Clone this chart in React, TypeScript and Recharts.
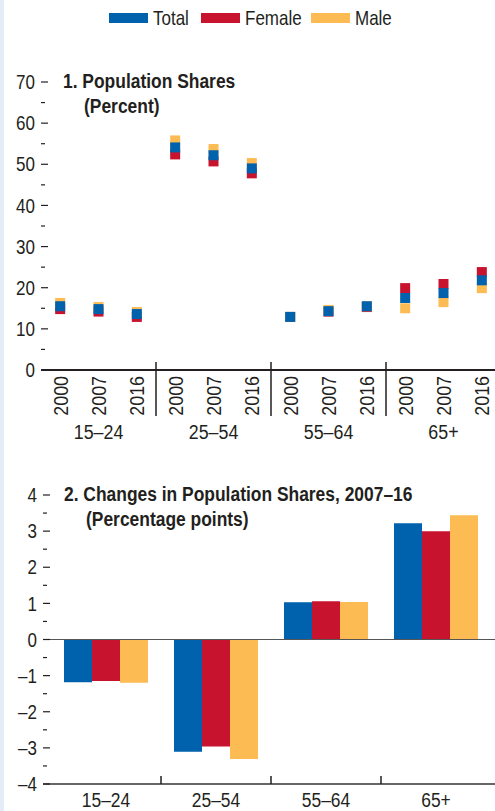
import React from 'react'
import {
  ScatterChart,
  Scatter,
  BarChart,
  Bar,
  XAxis,
  YAxis,
  ReferenceLine,
} from 'recharts'

const groups = ['15–24', '25–54', '55–64', '65+']
const years = ['2000', '2007', '2016']

// population shares, percent (2000, 2007, 2016 per age group)
const shareTotal = [15.5, 14.8, 13.6, 54.1, 52.2, 49.0, 12.9, 14.3, 15.5, 17.5, 18.7, 21.8]
const shareFemale = [14.8, 14.2, 12.9, 52.4, 50.7, 47.8, 12.9, 14.2, 15.3, 19.9, 20.9, 23.8]
const shareMale = [16.3, 15.3, 14.1, 55.8, 53.7, 50.3, 12.9, 14.6, 15.5, 15.0, 16.5, 19.9]

// changes 2007-16, percentage points
const changeTotal = [-1.18, -3.11, 1.03, 3.22]
const changeFemale = [-1.15, -2.96, 1.06, 3.0]
const changeMale = [-1.2, -3.31, 1.04, 3.44]

const shareTicks = [0, 5, 10, 15, 20, 25, 30, 35, 40, 45, 50, 55, 60, 65, 70]
const shareRightTicks = [10, 20, 30, 40, 50, 60, 70]
const changeTicks = [-4, -3.5, -3, -2.5, -2, -1.5, -1, -0.5, 0, 0.5, 1, 1.5, 2, 2.5, 3, 3.5, 4]
const changeRightTicks = [-3, -2, -1, 1, 2, 3, 4]

const BLUE = '#0061ac'
const RED = '#c8132f'
const YELLOW = '#fdbb54'
const INK = '#231f20'
const FONT = "'Liberation Sans', Arial, sans-serif"
const SQUEEZE = 0.85

const series = [
  { name: 'Total', color: BLUE },
  { name: 'Female', color: RED },
  { name: 'Male', color: YELLOW },
]

const toPoints = (vals: number[]) => vals.map((y, x) => ({ x, y }))
const xPositions = years.concat(years, years, years).map((_, i) => i)
const separators = [2.5, 5.5, 8.5]

const changeData = groups.map((g, i) => ({
  group: g,
  total: changeTotal[i],
  female: changeFemale[i],
  male: changeMale[i],
}))

const fmt = (v: number) => (v < 0 ? `–${-v}` : `${v}`)

// condensed-looking text: Liberation Sans squeezed horizontally
const Narrow = ({ x, y, rotate = 0, anchor = 'start', size = 20, bold = false, dy, children }: any) => (
  <text
    transform={`translate(${x}, ${y}) rotate(${rotate}) scale(${SQUEEZE}, 1)`}
    dy={dy}
    textAnchor={anchor}
    fontSize={size}
    fontWeight={bold ? 700 : 400}
    fill={INK}
    fontFamily={FONT}
  >
    {children}
  </text>
)

const square = (color: string) => (props: any) => (
  <rect x={props.cx - 5} y={props.cy - 5} width={10} height={10} fill={color} />
)

const LeftTick = ({ x, y, payload, major }: any) => {
  const isMajor = payload.value % major === 0
  return (
    <g>
      <line x1={x} x2={x + (isMajor ? 7 : 4)} y1={y} y2={y} stroke={INK} strokeWidth={1.2} />
      {isMajor && (
        <Narrow x={x - 6} y={y} dy="0.36em" anchor="end">
          {fmt(payload.value)}
        </Narrow>
      )}
    </g>
  )
}

const RightTick = ({ x, y }: any) => (
  <line x1={x - 8} x2={x} y1={y} y2={y} stroke={INK} strokeWidth={1.2} />
)

const YearTick = ({ x, y, payload }: any) => {
  const v = payload.value
  if (!Number.isInteger(v)) {
    return <line x1={x} x2={x} y1={y - 8} y2={y + 46} stroke={INK} strokeWidth={1.5} />
  }
  return (
    <g>
      <Narrow x={x} y={y + 6} rotate={-90} dy="0.36em" anchor="end" size={21}>
        {years[v % 3]}
      </Narrow>
      {v % 3 === 1 && (
        <Narrow x={x} y={y + 69} anchor="middle" size={21}>
          {groups[Math.floor(v / 3)]}
        </Narrow>
      )}
    </g>
  )
}

const GroupTick = ({ x, y, payload, index }: any) => {
  const half = payload.offset ?? 55
  return (
    <g>
      {index > 0 && (
        <line x1={x - half} x2={x - half} y1={y - 8} y2={y} stroke={INK} strokeWidth={1.5} />
      )}
      <Narrow x={x} y={y + 23} anchor="middle" size={20.5}>
        {payload.value}
      </Narrow>
    </g>
  )
}

const legendX = [109, 201, 311]

export default function App() {
  return (
    <div
      style={{
        position: 'absolute',
        left: 0,
        top: 0,
        width: 495,
        height: 811,
        overflow: 'hidden',
        background: '#fff',
      }}
    >
      <div style={{ position: 'absolute', left: 0, top: 0, width: 4, height: 811, background: '#e4ecf7' }} />

      <div style={{ position: 'absolute', left: 0, top: 0 }}>
        <ScatterChart width={505} height={450} margin={{ top: 82, right: 4, bottom: 0, left: 0 }}>
          <XAxis
            type="number"
            dataKey="x"
            domain={[-0.5, 11.5]}
            ticks={xPositions.concat(separators)}
            interval={0}
            height={80}
            tickSize={0}
            tickMargin={0}
            tickLine={false}
            axisLine={{ stroke: INK, strokeWidth: 2 }}
            tick={<YearTick />}
          />
          <YAxis
            yAxisId="l"
            type="number"
            dataKey="y"
            domain={[0, 70]}
            ticks={shareTicks}
            interval={0}
            width={41}
            tickSize={0}
            tickMargin={0}
            axisLine={false}
            tickLine={false}
            tick={<LeftTick major={10} />}
          />
          <YAxis
            yAxisId="r"
            orientation="right"
            type="number"
            domain={[0, 70]}
            ticks={shareRightTicks}
            interval={0}
            width={0}
            tickSize={0}
            tickMargin={0}
            axisLine={false}
            tickLine={false}
            tick={<RightTick />}
          />
          <Scatter yAxisId="l" data={toPoints(shareFemale)} shape={square(RED)} isAnimationActive={false} />
          <Scatter yAxisId="l" data={toPoints(shareMale)} shape={square(YELLOW)} isAnimationActive={false} />
          <Scatter yAxisId="l" data={toPoints(shareTotal)} shape={square(BLUE)} isAnimationActive={false} />
        </ScatterChart>
      </div>

      <div style={{ position: 'absolute', left: 0, top: 470 }}>
        <BarChart
          width={503}
          height={360}
          data={changeData}
          margin={{ top: 25, right: 4, bottom: 0, left: 0 }}
          barCategoryGap={13}
          barGap={0}
        >
          <XAxis
            dataKey="group"
            padding={{ left: 8, right: 8 }}
            height={46}
            interval={0}
            tickSize={0}
            tickMargin={0}
            tickLine={false}
            axisLine={{ stroke: '#333', strokeWidth: 1.5 }}
            tick={<GroupTick />}
          />
          <YAxis
            yAxisId="l"
            domain={[-4, 4]}
            ticks={changeTicks}
            interval={0}
            width={43}
            tickSize={0}
            tickMargin={0}
            axisLine={false}
            tickLine={false}
            tick={<LeftTick major={1} />}
          />
          <YAxis
            yAxisId="r"
            orientation="right"
            domain={[-4, 4]}
            ticks={changeRightTicks}
            interval={0}
            width={0}
            tickSize={0}
            tickMargin={0}
            axisLine={false}
            tickLine={false}
            tick={<RightTick />}
          />
          <ReferenceLine yAxisId="l" y={0} stroke="#555" strokeWidth={1} />
          <Bar yAxisId="l" dataKey="total" fill={BLUE} isAnimationActive={false} />
          <Bar yAxisId="l" dataKey="female" fill={RED} isAnimationActive={false} />
          <Bar yAxisId="l" dataKey="male" fill={YELLOW} isAnimationActive={false} />
        </BarChart>
      </div>

      {/* legend and panel titles */}
      <svg width={495} height={811} style={{ position: 'absolute', left: 0, top: 0, pointerEvents: 'none' }}>
        {series.map((s, i) => (
          <g key={s.name}>
            <rect x={legendX[i]} y={13} width={39} height={10} fill={s.color} />
            <Narrow x={legendX[i] + 44} y={25}>{s.name}</Narrow>
          </g>
        ))}
        <Narrow x={63} y={88} size={20.5} bold>1. Population Shares</Narrow>
        <Narrow x={84} y={113} size={20.5} bold>(Percent)</Narrow>
        <Narrow x={64} y={501} size={20.5} bold>2. Changes in Population Shares, 2007–16</Narrow>
        <Narrow x={86} y={526} size={20.5} bold>(Percentage points)</Narrow>
      </svg>
    </div>
  )
}
